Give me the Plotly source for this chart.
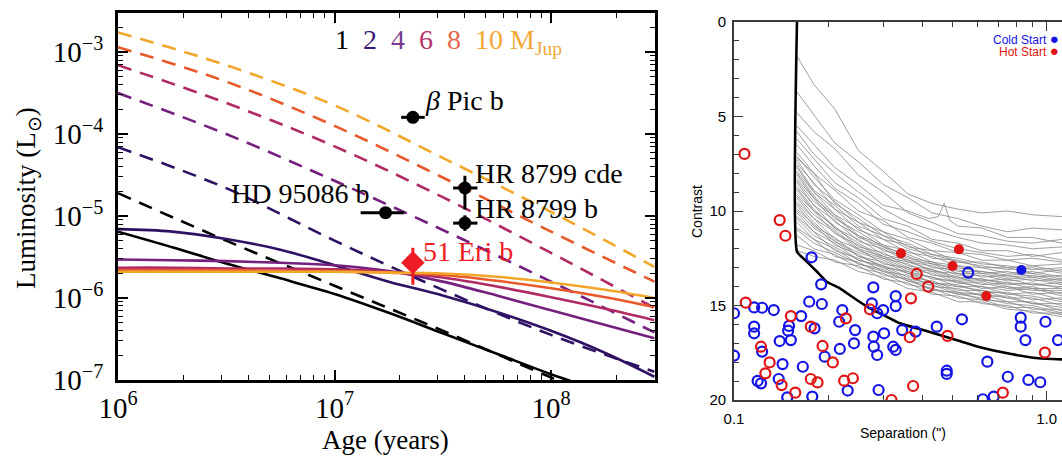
import plotly.graph_objects as go

W, H = 1062, 456

# ---------------- Left panel: luminosity tracks ----------------
masses = [1, 2, 4, 6, 8, 10]
mass_colors = ['#000000', '#2f1163', '#751f7f', '#b02a63', '#e8592b', '#f2a62a']

hot_ages = [1e6, 3.16e6, 1e7, 3.16e7, 1e8, 3e8]
hot_logL = {
    1: [-4.72, -5.30, -5.85, -6.40, -6.97, -7.50],
    2: [-4.16, -4.66, -5.30, -5.90, -6.45, -6.90],
    4: [-3.50, -4.00, -4.57, -5.17, -5.80, -6.42],
    6: [-3.16, -3.62, -4.15, -4.77, -5.45, -6.12],
    8: [-2.94, -3.36, -3.90, -4.53, -5.19, -5.80],
    10: [-2.76, -3.16, -3.65, -4.29, -4.95, -5.62],
}

cold_ages = [1e6, 1.78e6, 3.16e6, 5.62e6, 1e7, 1.78e7, 3.16e7, 5.62e7, 1e8, 1.78e8, 3e8]
cold_logL = {
    1: [-5.19, -5.38, -5.58, -5.76, -5.95, -6.18, -6.43, -6.68, -6.93, -7.16, -7.40],
    2: [-5.16, -5.19, -5.28, -5.41, -5.60, -5.80, -5.97, -6.17, -6.40, -6.67, -6.96],
    4: [-5.53, -5.54, -5.55, -5.57, -5.60, -5.67, -5.80, -5.97, -6.15, -6.33, -6.49],
    6: [-5.63, -5.63, -5.64, -5.64, -5.65, -5.68, -5.75, -5.86, -5.99, -6.13, -6.27],
    8: [-5.66, -5.66, -5.66, -5.67, -5.67, -5.69, -5.72, -5.79, -5.88, -5.99, -6.11],
    10: [-5.68, -5.68, -5.68, -5.68, -5.68, -5.69, -5.70, -5.74, -5.81, -5.90, -6.00],
}

planet_names = ['β Pic b', 'HD 95086 b', 'HR 8799 cde', 'HR 8799 b']
planet_age = [2.3e7, 1.72e7, 4.0e7, 4.0e7]
planet_age_minus = [0.27e7, 0.40e7, 0.47e7, 0.47e7]
planet_age_plus = [0.31e7, 0.38e7, 0.57e7, 0.57e7]
planet_lum = [1.6e-4, 1.1e-5, 2.2e-5, 8.2e-6]
planet_lum_minus = [0.0, 0.0, 1.0e-5, 1.6e-6]
planet_lum_plus = [0.0, 0.0, 0.9e-5, 2.0e-6]

eri_age, eri_age_minus, eri_age_plus = [2.3e7], [0.23e7], [0.25e7]
eri_lum, eri_lum_minus, eri_lum_plus = [2.7e-6], [1.25e-6], [1.4e-6]

age_ticks = [1e6, 1e7, 1e8]
age_ticktext = ['10<sup>6</sup>', '10<sup>7</sup>', '10<sup>8</sup>']
lum_ticks = [1e-7, 1e-6, 1e-5, 1e-4, 1e-3]
lum_ticktext = ['10<sup>−7</sup>', '10<sup>−6</sup>', '10<sup>−5</sup>', '10<sup>−4</sup>', '10<sup>−3</sup>']

# ---------------- Right panel: contrast curves ----------------
gray_sep = [0.159, 0.18, 0.21, 0.25, 0.3, 0.36, 0.43, 0.52, 0.62, 0.75, 0.9, 1.12]
gray_contrast = [
    [1.8, 3.3, 4.6, 6.8, 7.9, 9.1, 9.6, 9.9, 10.1, 10.0, 10.2, 10.3],
    [3.7, 4.9, 6.4, 7.4, 8.6, 9.3, 10.1, 10.4, 10.8, 11.1, 10.9, 11.0],
    [4.8, 5.8, 6.7, 8.1, 9.0, 10.1, 10.6, 11.2, 11.3, 11.6, 11.7, 11.5],
    [5.8, 7.0, 8.0, 9.0, 9.9, 10.6, 11.0, 11.4, 11.7, 11.8, 12.0, 11.9],
    [6.2, 7.2, 8.5, 9.3, 10.4, 10.8, 11.5, 11.7, 12.1, 12.1, 12.4, 12.2],
    [6.5, 7.6, 8.8, 9.6, 10.7, 11.1, 11.6, 12.0, 12.2, 12.4, 12.3, 12.6],
    [6.9, 8.0, 8.9, 10.0, 10.5, 11.4, 11.7, 12.2, 12.3, 12.6, 12.5, 12.7],
    [7.1, 8.2, 9.4, 10.2, 11.1, 11.5, 12.1, 12.2, 12.6, 12.6, 12.9, 12.8],
    [7.2, 8.0, 9.6, 10.4, 11.3, 11.7, 12.3, 12.5, 12.8, 12.9, 13.1, 13.0],
    [7.3, 8.6, 9.5, 10.6, 11.1, 11.9, 12.1, 12.7, 12.7, 13.0, 12.9, 13.2],
    [7.5, 8.5, 9.9, 10.6, 11.5, 11.8, 12.5, 12.6, 13.0, 13.0, 13.3, 13.1],
    [7.6, 8.9, 9.7, 10.8, 11.3, 12.0, 12.3, 12.7, 12.9, 13.1, 13.0, 13.3],
    [7.7, 9.0, 9.9, 11.0, 11.5, 12.2, 12.4, 12.9, 13.0, 13.3, 13.2, 13.5],
    [7.9, 9.0, 10.2, 10.9, 11.8, 12.1, 12.7, 12.9, 13.3, 13.2, 13.5, 13.4],
    [8.0, 9.2, 10.4, 11.1, 11.9, 12.3, 12.8, 13.0, 13.2, 13.4, 13.3, 13.6],
    [8.1, 9.3, 10.2, 11.3, 11.8, 12.5, 12.7, 13.2, 13.2, 13.5, 13.4, 13.7],
    [8.3, 9.3, 10.6, 11.3, 12.1, 12.4, 13.0, 13.1, 13.5, 13.4, 13.7, 13.6],
    [8.4, 9.5, 10.3, 11.4, 11.9, 12.6, 12.8, 13.3, 13.3, 13.6, 13.5, 13.8],
    [8.5, 9.7, 10.5, 11.6, 12.0, 12.7, 12.9, 13.4, 13.4, 13.7, 13.6, 13.9],
    [8.7, 9.7, 10.9, 11.5, 12.3, 12.6, 13.2, 13.3, 13.7, 13.6, 13.9, 13.8],
    [8.8, 9.9, 10.9, 11.7, 12.4, 12.7, 13.1, 13.5, 13.6, 13.8, 13.9, 14.0],
    [8.9, 10.0, 10.8, 11.9, 12.2, 12.9, 13.1, 13.6, 13.6, 13.9, 13.8, 14.1],
    [9.1, 10.0, 11.2, 11.8, 12.5, 12.8, 13.4, 13.5, 13.9, 13.8, 14.1, 14.1],
    [9.2, 10.2, 11.0, 12.0, 12.4, 13.0, 13.2, 13.7, 13.7, 14.0, 14.2, 14.2],
    [9.3, 10.4, 11.1, 12.1, 12.5, 13.1, 13.3, 13.8, 13.8, 14.1, 14.0, 14.4],
    [9.5, 10.4, 11.5, 12.0, 12.8, 13.0, 13.6, 13.7, 14.1, 14.0, 14.4, 14.3],
    [9.6, 10.6, 11.6, 12.2, 12.6, 13.2, 13.5, 13.8, 14.0, 14.2, 14.1, 14.5],
    [9.7, 10.8, 11.4, 12.4, 12.7, 13.3, 13.5, 14.0, 14.0, 14.4, 14.3, 14.7],
    [9.9, 10.7, 11.8, 12.3, 13.0, 13.2, 13.8, 13.9, 14.3, 14.3, 14.7, 14.6],
    [10.0, 10.9, 11.6, 12.4, 12.9, 13.3, 13.8, 14.0, 14.2, 14.4, 14.5, 14.8],
    [10.1, 11.1, 11.7, 12.6, 12.9, 13.5, 13.7, 14.2, 14.2, 14.6, 14.6, 15.0],
    [10.3, 11.1, 12.1, 12.5, 13.2, 13.4, 14.0, 14.1, 14.5, 14.5, 14.9, 14.9],
    [10.4, 11.3, 11.9, 12.6, 13.0, 13.6, 13.8, 14.3, 14.4, 14.6, 14.9, 15.1],
    [10.6, 11.5, 12.0, 12.8, 13.1, 13.7, 13.9, 14.4, 14.4, 14.8, 14.8, 15.3],
    [10.9, 11.5, 12.4, 12.7, 13.4, 13.6, 14.2, 14.3, 14.7, 14.8, 15.2, 15.2],
    [11.0, 11.7, 12.2, 12.8, 13.2, 13.7, 14.1, 14.4, 14.6, 14.9, 15.0, 15.4],
    [11.3, 12.0, 12.3, 13.0, 13.3, 13.9, 14.1, 14.6, 14.7, 15.1, 15.1, 15.5],
    [11.8, 12.1, 12.7, 12.9, 13.6, 13.8, 14.4, 14.5, 14.9, 15.0, 15.4, 15.4],
    [12.1, 12.4, 12.6, 13.2, 13.5, 14.1, 14.3, 14.8, 14.8, 15.2, 15.3, 15.6],
]
spike_sep = [0.159, 0.18, 0.21, 0.25, 0.3, 0.36, 0.42, 0.45, 0.47, 0.49, 0.52, 0.62, 0.75, 0.9, 1.12]
spike_contrast = [5.5, 6.5, 7.7, 8.6, 9.7, 10.0, 10.4, 10.3, 9.6, 10.5, 10.8, 10.9, 11.4, 11.4, 11.7]

limit_sep = [0.159, 0.159, 0.171, 0.184, 0.198, 0.218, 0.247, 0.272, 0.300, 0.339, 0.418, 0.533, 0.603, 0.77, 0.94, 1.12]
limit_contrast = [0.0, 12.15, 12.68, 13.2, 13.74, 14.09, 14.71, 15.15, 15.5, 15.94, 16.38, 16.91, 17.18, 17.57, 17.79, 17.85]

cold_open_sep = [0.177, 0.190, 0.279, 0.329, 0.329, 0.174, 0.191, 0.100, 0.116, 0.123, 0.134, 0.164,
                 0.222, 0.217, 0.276, 0.287, 0.300, 0.116, 0.116, 0.150, 0.149, 0.181, 0.244, 0.100,
                 0.123, 0.140, 0.152, 0.218, 0.242, 0.279, 0.302, 0.280, 0.287, 0.323, 0.329, 0.195,
                 0.143, 0.166, 0.119, 0.122, 0.139, 0.148, 0.178, 0.231, 0.290,
                 0.561, 0.536, 0.445, 0.345, 0.381, 0.826, 0.826, 0.991, 1.087, 0.855, 0.646,
                 0.479, 0.479, 0.751, 0.874, 0.954, 0.625, 0.677]
cold_open_con = [12.45, 13.88, 14.04, 14.50, 15.03, 14.80, 14.92, 15.41, 15.10, 15.12, 15.24, 15.56,
                 15.24, 15.86, 14.89, 15.41, 15.24, 16.12, 16.47, 16.08, 16.33, 16.21, 16.30, 17.65,
                 17.44, 16.88, 16.83, 17.30, 17.00, 16.65, 16.47, 17.18, 17.62, 17.18, 17.35, 17.71,
                 18.10, 18.24, 18.99, 19.12, 18.89, 19.86, 19.82, 19.50, 19.47,
                 13.26, 15.73, 16.12, 16.30, 16.38, 15.64, 16.12, 15.86, 16.83, 16.83, 17.97,
                 18.45, 18.62, 18.77, 18.94, 19.06, 19.96, 19.82]

hot_open_sep = [0.108, 0.140, 0.146, 0.109, 0.152, 0.176, 0.122, 0.130, 0.126, 0.142, 0.157, 0.176,
                0.185, 0.192, 0.207, 0.228, 0.225, 0.240, 0.272, 0.319, 0.384, 0.418, 0.368, 0.365,
                0.482, 0.987, 0.374, 0.724]
hot_open_con = [6.98, 10.48, 11.31, 14.85, 15.56, 16.12, 17.18, 18.01, 18.59, 19.21, 19.61, 18.89,
                19.07, 17.14, 18.01, 15.68, 18.98, 18.85, 15.20, 20.0, 13.33, 14.0, 14.62, 16.68,
                16.61, 17.49, 19.26, 19.61]

hot_fill_sep = [0.342, 0.524, 0.500, 0.641]
hot_fill_con = [12.24, 12.03, 12.91, 14.50]
cold_fill_sep = [0.830]
cold_fill_con = [13.12]

sep_ticks = [0.1, 1.0]
sep_ticktext = ['0.1', '1.0']
con_ticks = [0, 5, 10, 15, 20]

BLUE = '#1414e6'
RED = '#e01414'
GRAY = 'rgba(135,135,135,0.8)'
SERIF = 'Liberation Serif'
SANS = 'Liberation Sans'

fig = go.Figure()

for m, c in zip(masses, mass_colors):
    fig.add_trace(go.Scatter(x=hot_ages, y=[10 ** v for v in hot_logL[m]], mode='lines',
                             line=dict(color=c, width=2.6, dash='14px,9px', shape='spline'),
                             xaxis='x', yaxis='y', hoverinfo='skip'))
for m, c in zip(masses, mass_colors):
    fig.add_trace(go.Scatter(x=cold_ages, y=[10 ** v for v in cold_logL[m]], mode='lines',
                             line=dict(color=c, width=2.6, shape='spline'),
                             xaxis='x', yaxis='y', hoverinfo='skip'))

fig.add_trace(go.Scatter(
    x=planet_age, y=planet_lum, mode='markers',
    marker=dict(color='black', size=13),
    error_x=dict(type='data', array=planet_age_plus, arrayminus=planet_age_minus,
                 color='black', thickness=3, width=0),
    error_y=dict(type='data', array=planet_lum_plus, arrayminus=planet_lum_minus,
                 color='black', thickness=3, width=0),
    xaxis='x', yaxis='y'))
fig.add_trace(go.Scatter(
    x=eri_age, y=eri_lum, mode='markers',
    marker=dict(color='#ee1c25', size=18, symbol='diamond'),
    error_x=dict(type='data', array=eri_age_plus, arrayminus=eri_age_minus,
                 color='#ee1c25', thickness=3, width=0),
    error_y=dict(type='data', array=eri_lum_plus, arrayminus=eri_lum_minus,
                 color='#ee1c25', thickness=3, width=0),
    xaxis='x', yaxis='y'))

for row in gray_contrast:
    fig.add_trace(go.Scatter(x=gray_sep, y=row, mode='lines',
                             line=dict(color=GRAY, width=1),
                             xaxis='x2', yaxis='y2', hoverinfo='skip'))
fig.add_trace(go.Scatter(x=spike_sep, y=spike_contrast, mode='lines',
                         line=dict(color=GRAY, width=1),
                         xaxis='x2', yaxis='y2', hoverinfo='skip'))
fig.add_trace(go.Scatter(x=limit_sep, y=limit_contrast, mode='lines',
                         line=dict(color='black', width=2.6, shape='spline', smoothing=0.4),
                         xaxis='x2', yaxis='y2'))
fig.add_trace(go.Scatter(x=cold_open_sep, y=cold_open_con, mode='markers',
                         marker=dict(symbol='circle-open', size=10, color=BLUE, line=dict(width=2.2)),
                         xaxis='x2', yaxis='y2'))
fig.add_trace(go.Scatter(x=hot_open_sep, y=hot_open_con, mode='markers',
                         marker=dict(symbol='circle-open', size=10, color=RED, line=dict(width=2.2)),
                         xaxis='x2', yaxis='y2'))
fig.add_trace(go.Scatter(x=hot_fill_sep, y=hot_fill_con, mode='markers',
                         marker=dict(symbol='circle', size=10, color=RED),
                         xaxis='x2', yaxis='y2'))
fig.add_trace(go.Scatter(x=cold_fill_sep, y=cold_fill_con, mode='markers',
                         marker=dict(symbol='circle', size=10, color=BLUE),
                         xaxis='x2', yaxis='y2'))


def fx(p):
    return p / W


def fy(p):
    return 1 - p / H


minor_age = [k * 10 ** e for e in (6, 7, 8) for k in range(2, 10) if k * 10 ** e < 3.05e8]
minor_lum = [k * 10.0 ** e for e in (-7, -6, -5, -4, -3) for k in range(2, 10) if k * 10.0 ** e < 3e-3]
minor_sep = [0.2, 0.3, 0.4, 0.5, 0.6, 0.7, 0.8, 0.9]

fig.update_layout(
    width=W, height=H, margin=dict(l=0, r=0, t=0, b=0),
    paper_bgcolor='white', plot_bgcolor='white', showlegend=False,
    xaxis=dict(type='log', domain=[fx(118), fx(655)], range=[6, 8.48], anchor='y',
               showline=True, linecolor='black', linewidth=2.6, mirror='allticks',
               ticks='inside', ticklen=10, tickwidth=1.5, tickcolor='black',
               tickmode='array', tickvals=age_ticks, ticktext=age_ticktext,
               tickfont=dict(family=SERIF, size=29, color='black'), ticklabelstandoff=0,
               minor=dict(ticks='inside', ticklen=5, tickwidth=1.3, tickcolor='black',
                          tickmode='array', tickvals=minor_age),
               showgrid=False, zeroline=False, automargin=False),
    yaxis=dict(type='log', domain=[fy(380), fy(13)], range=[-7, -2.523], anchor='x',
               showline=True, linecolor='black', linewidth=2.6, mirror='allticks',
               ticks='inside', ticklen=10, tickwidth=1.5, tickcolor='black',
               tickmode='array', tickvals=lum_ticks, ticktext=lum_ticktext,
               tickfont=dict(family=SERIF, size=29, color='black'), ticklabelstandoff=6,
               minor=dict(ticks='inside', ticklen=5, tickwidth=1.3, tickcolor='black',
                          tickmode='array', tickvals=minor_lum),
               showgrid=False, zeroline=False, automargin=False),
    xaxis2=dict(type='log', domain=[fx(734), 1.0], range=[-1, 0.049], anchor='y2',
                showline=True, linecolor='#3a3a3a', linewidth=1.6, mirror='allticks',
                ticks='inside', ticklen=9, tickwidth=1.4, tickcolor='#3a3a3a',
                tickmode='array', tickvals=sep_ticks, ticktext=sep_ticktext,
                tickfont=dict(family=SANS, size=15, color='black'), ticklabelstandoff=4,
                minor=dict(ticks='inside', ticklen=5, tickwidth=1.2, tickcolor='#3a3a3a',
                           tickmode='array', tickvals=minor_sep),
                showgrid=False, zeroline=False, automargin=False),
    yaxis2=dict(domain=[fy(400), fy(22)], range=[20, 0], anchor='x2',
                showline=True, linecolor='#3a3a3a', linewidth=1.6, mirror=False,
                ticks='inside', ticklen=9, tickwidth=1.4, tickcolor='#3a3a3a',
                tickmode='array', tickvals=con_ticks,
                tickfont=dict(family=SANS, size=15, color='black'), ticklabelstandoff=3,
                minor=dict(ticks='inside', ticklen=5, tickwidth=1.2, tickcolor='#3a3a3a',
                           tickmode='linear', tick0=0, dtick=1),
                showgrid=False, zeroline=False, automargin=False),
)

mass_label = ('<span style="color:#000000">1</span>  <span style="color:#3a1a78">2</span>  '
              '<span style="color:#7a3a8c">4</span>  <span style="color:#b3336c">6</span>  '
              '<span style="color:#e8684a">8</span>  <span style="color:#f2a93a">10 M<sub>Jup</sub></span>')

ann = [
    dict(text=mass_label, x=fx(333), y=fy(42), xanchor='left', yanchor='middle',
         font=dict(family=SERIF, size=28)),
    dict(text='<i>β</i> Pic b', x=fx(423), y=fy(100), xanchor='left', yanchor='middle',
         font=dict(family=SERIF, size=28, color='black')),
    dict(text='HD 95086 b', x=fx(300), y=fy(193), xanchor='center', yanchor='middle',
         font=dict(family=SERIF, size=28, color='black')),
    dict(text='HR 8799 cde', x=fx(473), y=fy(173), xanchor='left', yanchor='middle',
         font=dict(family=SERIF, size=28, color='black')),
    dict(text='HR 8799 b', x=fx(473), y=fy(209), xanchor='left', yanchor='middle',
         font=dict(family=SERIF, size=28, color='black')),
    dict(text='51 Eri b', x=fx(421), y=fy(251), xanchor='left', yanchor='middle',
         font=dict(family=SERIF, size=28, color='#ee1c25')),
    dict(text='Luminosity (L<sub>⊙</sub>)', x=fx(28), y=fy(198), textangle=-90,
         xanchor='center', yanchor='middle', font=dict(family=SERIF, size=27, color='black')),
    dict(text='Age (years)', x=fx(385), y=fy(440), xanchor='center', yanchor='middle',
         font=dict(family=SERIF, size=27, color='black')),
    dict(text='Contrast', x=fx(697), y=fy(212), textangle=-90, xanchor='center', yanchor='middle',
         font=dict(family=SANS, size=14, color='black')),
    dict(text='Separation (")', x=fx(903), y=fy(433), xanchor='center', yanchor='middle',
         font=dict(family=SANS, size=14, color='black')),
    dict(text='Cold Start <span style="font-size:15px">●</span>', x=fx(1060), y=fy(38),
         xanchor='right', yanchor='middle', borderpad=0, font=dict(family=SANS, size=12, color=BLUE)),
    dict(text='Hot Start <span style="font-size:15px">●</span>', x=fx(1060), y=fy(51),
         xanchor='right', yanchor='middle', borderpad=0, font=dict(family=SANS, size=12, color=RED)),
]
for a in ann:
    a.update(xref='paper', yref='paper', showarrow=False)
fig.update_layout(annotations=ann)

# remove the browser's default page margin so the figure fills the 1062x456 window exactly
page_js = ("document.body.style.margin='0';document.body.style.padding='0';"
           "document.body.style.overflow='hidden';"
           "document.documentElement.style.overflow='hidden';")
fig.write_html('out.html', post_script=page_js, config={'displayModeBar': False})
